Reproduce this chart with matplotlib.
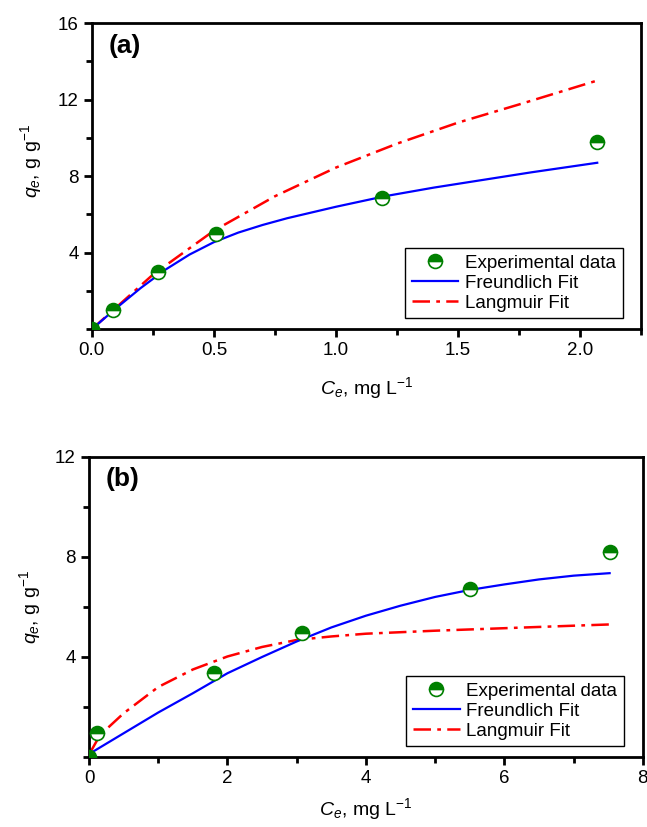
import matplotlib
matplotlib.use("Agg")
import matplotlib.pyplot as plt
from matplotlib.ticker import MultipleLocator, FixedLocator

plt.rcParams['font.family'] = ['Liberation Sans', 'DejaVu Sans']
plt.rcParams['mathtext.fontset'] = 'custom'
plt.rcParams['mathtext.rm'] = 'Liberation Sans'
plt.rcParams['mathtext.it'] = 'Liberation Sans:italic'

# panel (a) data
ce_a = [0.0, 0.086, 0.27, 0.51, 1.19, 2.07]
qe_a = [0.0, 0.99, 2.98, 4.97, 6.86, 9.8]
freund_x_a = [0.0, 0.1, 0.2, 0.3, 0.4, 0.5, 0.6, 0.7, 0.8, 1.0, 1.2, 1.4, 1.6, 1.8, 2.07]
freund_y_a = [0.0, 1.1, 2.15, 3.1, 3.9, 4.55, 5.05, 5.45, 5.8, 6.4, 6.95, 7.4, 7.8, 8.2, 8.7]
lang_x_a = [0.0, 0.25, 0.5, 0.75, 1.0, 1.25, 1.5, 1.75, 2.07]
lang_y_a = [0.0, 2.85, 5.15, 6.95, 8.45, 9.7, 10.8, 11.75, 13.0]

# panel (b) data
ce_b = [0.0, 0.12, 1.8, 3.07, 5.51, 7.52]
qe_b = [0.0, 0.96, 3.36, 4.96, 6.72, 8.2]
freund_x_b = [0.0, 0.5, 1.0, 1.5, 2.0, 2.5, 3.0, 3.5, 4.0, 4.5, 5.0, 5.5, 6.0, 6.5, 7.0, 7.52]
freund_y_b = [0.12, 0.95, 1.78, 2.55, 3.35, 4.0, 4.62, 5.18, 5.65, 6.05, 6.4, 6.68, 6.9, 7.1, 7.25, 7.35]
lang_x_b = [0.0, 0.16, 0.5, 1.0, 1.5, 2.0, 2.5, 3.0, 3.5, 4.0, 5.0, 6.0, 7.0, 7.52]
lang_y_b = [0.1, 0.88, 1.75, 2.8, 3.5, 4.02, 4.4, 4.68, 4.82, 4.93, 5.05, 5.15, 5.25, 5.3]

fig = plt.figure(figsize=(6.47, 8.27), dpi=100)
ax_a = fig.add_axes([0.142, 0.602, 0.849, 0.370])
ax_b = fig.add_axes([0.1376, 0.0846, 0.856, 0.363])

red_dash = (0, (7, 2.5, 1.5, 2.5))


def draw(ax, ce, qe, fx, fy, lx, ly, label):
    ax.plot(lx, ly, color='red', linestyle=red_dash, lw=1.8, label='Langmuir Fit', zorder=2)
    ax.plot(fx, fy, color='blue', lw=1.6, label='Freundlich Fit', zorder=2)
    ax.plot(ce, qe, linestyle='none', marker='o', ms=10, fillstyle='top',
            color='green', markerfacecoloralt='white', markeredgecolor='green',
            markeredgewidth=1.2, label='Experimental data', zorder=3)
    for s in ax.spines.values():
        s.set_linewidth(2)
    ax.tick_params(which='both', direction='out', width=2, labelsize=13.5,
                   top=False, right=False)
    ax.tick_params(which='major', length=6)
    ax.tick_params(which='minor', length=4)
    ax.text(0.03, 0.965, label, transform=ax.transAxes, fontsize=19,
            fontweight='bold', va='top', ha='left')
    h, l = ax.get_legend_handles_labels()
    order = [2, 1, 0]
    leg = ax.legend([h[i] for i in order], [l[i] for i in order],
                    loc='lower right', bbox_to_anchor=(0.966, 0.036),
                    fontsize=13.5, fancybox=False, edgecolor='black',
                    framealpha=1, handlelength=2.5, handletextpad=0.35,
                    borderpad=0.35, labelspacing=0.15, borderaxespad=0)
    leg.get_frame().set_linewidth(1.0)
    ax.set_ylabel('$q_e$, g g$^{-1}$', fontsize=14)
    ax.set_xlabel('$C_e$, mg L$^{-1}$', fontsize=14)


draw(ax_a, ce_a, qe_a, freund_x_a, freund_y_a, lang_x_a, lang_y_a, '(a)')
ax_a.set_xlim(0, 2.25)
ax_a.set_ylim(0, 16)
ax_a.xaxis.set_major_locator(FixedLocator([0.0, 0.5, 1.0, 1.5, 2.0]))
ax_a.xaxis.set_major_formatter(plt.FuncFormatter(lambda v, p: '%.1f' % v))
ax_a.xaxis.set_minor_locator(MultipleLocator(0.25))
ax_a.yaxis.set_major_locator(FixedLocator([4, 8, 12, 16]))
ax_a.yaxis.set_minor_locator(FixedLocator([0, 2, 6, 10, 14]))

draw(ax_b, ce_b, qe_b, freund_x_b, freund_y_b, lang_x_b, lang_y_b, '(b)')
ax_b.set_xlim(0, 8)
ax_b.set_ylim(0, 12)
ax_b.xaxis.set_major_locator(MultipleLocator(2))
ax_b.xaxis.set_minor_locator(MultipleLocator(1))
ax_b.yaxis.set_major_locator(FixedLocator([4, 8, 12]))
ax_b.yaxis.set_minor_locator(FixedLocator([0, 2, 6, 10]))

ax_a.yaxis.set_label_coords(-0.088, 0.55)
ax_b.yaxis.set_label_coords(-0.084, 0.5)
ax_a.xaxis.set_label_coords(0.5, -0.15)
ax_b.xaxis.set_label_coords(0.5, -0.13)

fig.savefig('out.png', dpi=100)
